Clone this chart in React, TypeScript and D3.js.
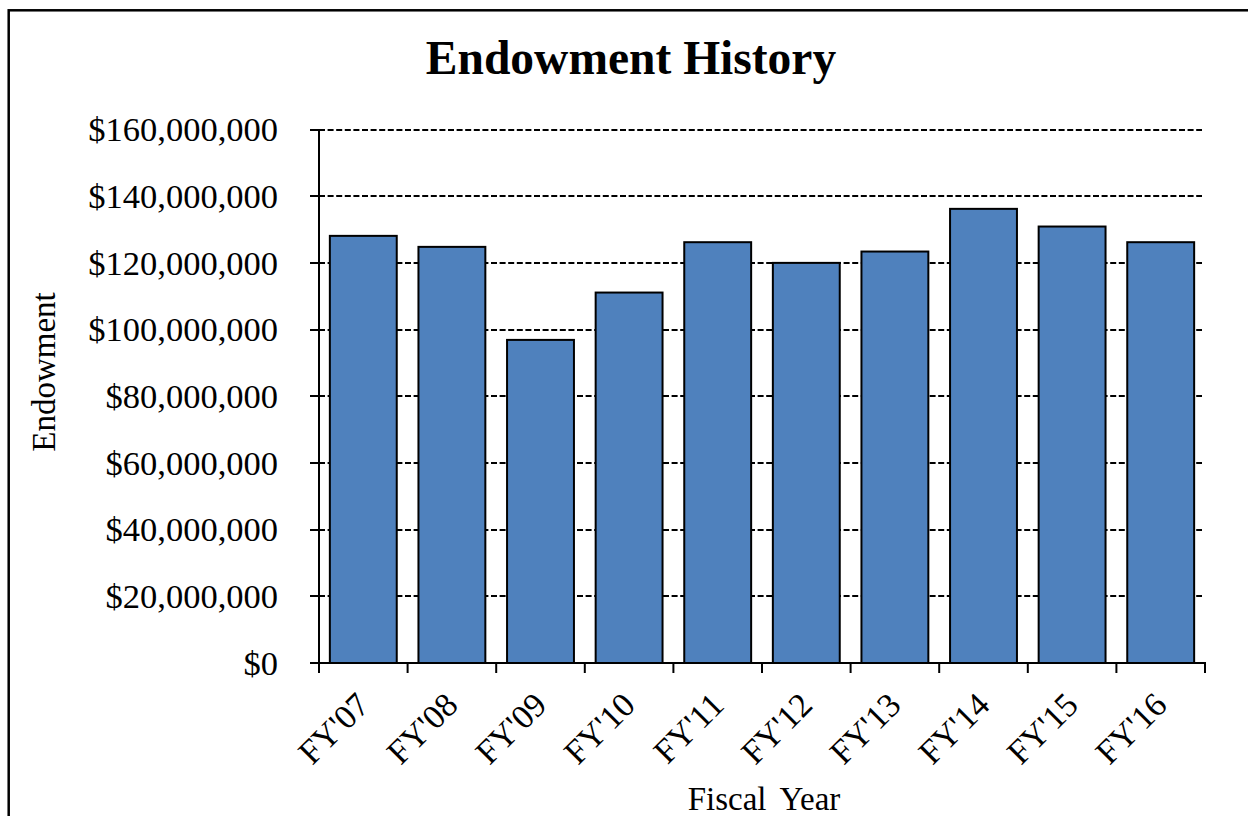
import React from "react";
import * as d3 from "d3";

const categories = ["FY'07", "FY'08", "FY'09", "FY'10", "FY'11", "FY'12", "FY'13", "FY'14", "FY'15", "FY'16"];
const endowment = [128.1e6, 124.8e6, 96.9e6, 111.1e6, 126.2e6, 120.0e6, 123.4e6, 136.2e6, 130.9e6, 126.2e6];
const yTicks = [0, 20e6, 40e6, 60e6, 80e6, 100e6, 120e6, 140e6, 160e6];

const W = 1248;
const H = 816;
const plot = { left: 319, right: 1205, top: 129.5, bottom: 663 };
const font = "'Liberation Serif', 'Times New Roman', serif";

export default function App() {
  const x = d3.scaleBand<string>().domain(categories).range([plot.left, plot.right]).paddingInner(0.245).paddingOuter(0.1225);
  const xb = d3.scaleBand<string>().domain(categories).range([plot.left, plot.right]);
  const y = d3.scaleLinear().domain([0, 160e6]).range([plot.bottom, plot.top]);
  const fmt = (v: number) => "$" + d3.format(",")(v);
  const boundaries = [...categories.map((c) => xb(c)!), plot.right];

  return (
    <svg width={W} height={H} style={{ position: "absolute", left: 0, top: 0, background: "#fff" }} fontFamily={font}>
      <rect x={8.7} y={10.3} width={W + 20} height={H + 20} fill="#fff" stroke="#000" strokeWidth={2.5} />
      <text x={631} y={73.5} textAnchor="middle" fontSize={47.5} fontWeight="bold">Endowment History</text>

      {yTicks.filter((t) => t > 0).map((t) => (
        <line key={"g" + t} x1={plot.left} x2={plot.right - 3} y1={Math.round(y(t))} y2={Math.round(y(t))} stroke="#000" strokeWidth={2} strokeDasharray="6 2.6" />
      ))}

      {categories.map((c, i) => (
        <rect key={c} x={x(c)!} y={y(endowment[i])} width={x.bandwidth()} height={plot.bottom - y(endowment[i])} fill="#4F81BD" stroke="#000" strokeWidth={2} />
      ))}

      <line x1={plot.left} x2={plot.left} y1={plot.top} y2={plot.bottom + 1} stroke="#000" strokeWidth={2} />
      <line x1={plot.left - 9} x2={plot.right + 1} y1={plot.bottom} y2={plot.bottom} stroke="#000" strokeWidth={2} />
      {yTicks.map((t) => (
        <g key={"t" + t}>
          <line x1={plot.left - 9} x2={plot.left} y1={Math.round(y(t))} y2={Math.round(y(t))} stroke="#000" strokeWidth={2} />
          <text x={278} y={y(t)} dy="0.34em" textAnchor="end" fontSize={34.5}>{fmt(t)}</text>
        </g>
      ))}
      {boundaries.map((b, i) => (
        <line key={"b" + i} x1={b} x2={b} y1={plot.bottom} y2={plot.bottom + 10} stroke="#000" strokeWidth={2} />
      ))}
      {categories.map((c) => {
        const cx = xb(c)! + xb.bandwidth() / 2 + 8;
        const cy = 707;
        return (
          <text key={"l" + c} x={cx} y={cy} textAnchor="end" fontSize={34} transform={`rotate(-45 ${cx} ${cy})`}>{c}</text>
        );
      })}

      <text transform={`translate(55 372) rotate(-90)`} textAnchor="middle" fontSize={33}>Endowment</text>
      <text x={764} y={810} textAnchor="middle" fontSize={33} wordSpacing={6}>Fiscal Year</text>
    </svg>
  );
}
